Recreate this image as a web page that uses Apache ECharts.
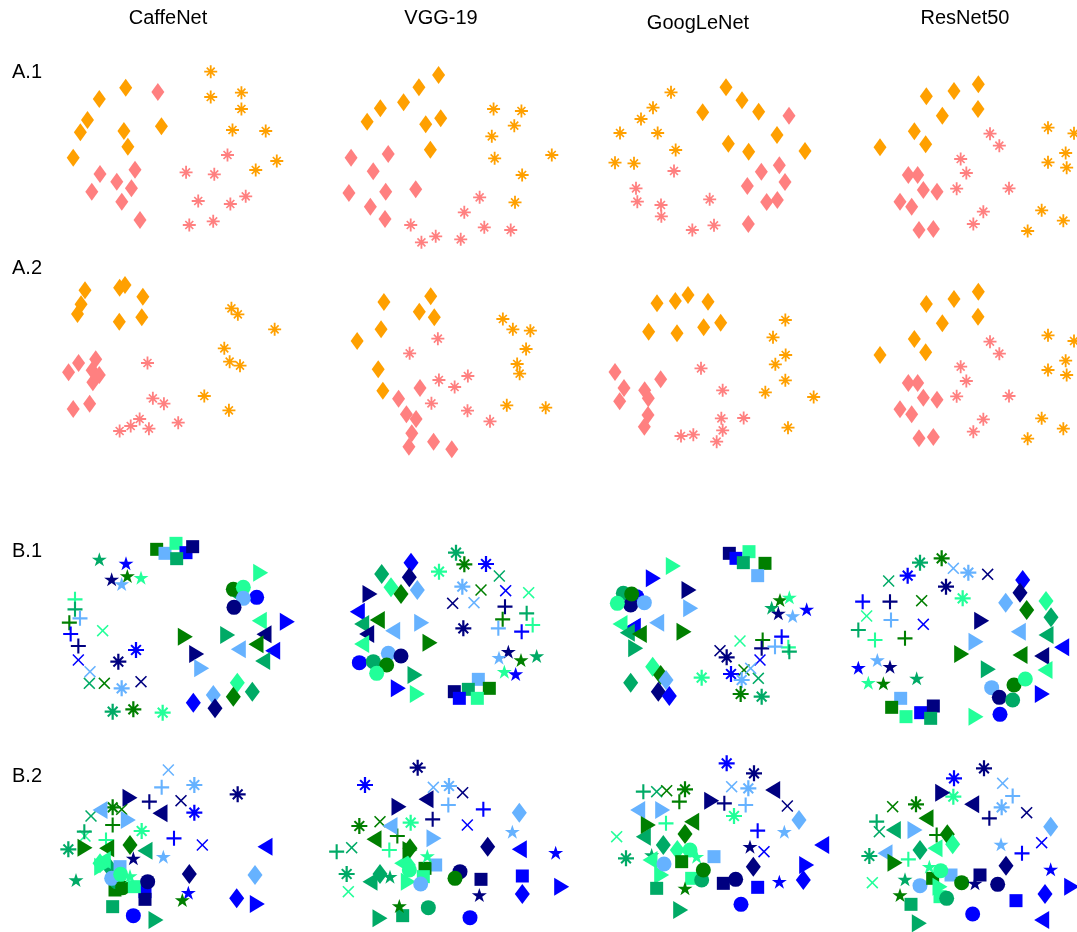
<!DOCTYPE html>
<html><head><meta charset="utf-8">
<script src="https://cdn.jsdelivr.net/npm/echarts@6/dist/echarts.min.js"></script>
<style>html,body{margin:0;padding:0;background:#fff}#c{width:1077px;height:932px}</style>
</head><body><div id="c"></div>
<script>
// Column (network) names and row labels
const networks = ['CaffeNet', 'VGG-19', 'GoogLeNet', 'ResNet50'];
const rowLabels = ['A.1', 'A.2', 'B.1', 'B.2'];

// Point values: [x, y, class]  (arbitrary embedding units)
// class = shape letter + colour letter
const a1_caffenet = [
[352,98,'Do'],[278,132,'Do'],[245,195,'Do'],[225,232,'Do'],[347,228,'Do'],[452,214,'Do'],[358,275,'Do'],[205,308,'Do'],
[442,111,'Ds'],[280,357,'Ds'],[378,344,'Ds'],[327,380,'Ds'],[368,400,'Ds'],[257,410,'Ds'],[341,440,'Ds'],[392,495,'Ds'],
[590,50,'Ao'],[590,126,'Ao'],[676,113,'Ao'],[676,162,'Ao'],[651,225,'Ao'],[744,228,'Ao'],[775,318,'Ao'],[716,345,'Ao'],
[637,300,'As'],[521,352,'As'],[600,358,'As'],[555,438,'As'],[645,447,'As'],[688,424,'As'],[530,510,'As'],[597,499,'As']];
const a1_vgg19 = [
[1228,60,'Do'],[1173,97,'Do'],[1130,142,'Do'],[1065,160,'Do'],[1028,200,'Do'],[1192,208,'Do'],[1234,190,'Do'],[1205,284,'Do'],
[983,308,'Ds'],[1087,297,'Ds'],[1045,349,'Ds'],[977,414,'Ds'],[1080,410,'Ds'],[1164,403,'Ds'],[1037,455,'Ds'],[1078,492,'Ds'],
[1382,162,'Ao'],[1460,168,'Ao'],[1440,212,'Ao'],[1377,244,'Ao'],[1385,310,'Ao'],[1545,300,'Ao'],[1462,360,'Ao'],[1442,442,'Ao'],
[1343,427,'As'],[1300,472,'As'],[1150,510,'As'],[1220,544,'As'],[1290,553,'As'],[1180,562,'As'],[1356,517,'As'],[1430,525,'As']];
const a1_googlenet = [
[498,97,'Do'],[546,136,'Do'],[428,172,'Do'],[596,170,'Do'],[505,266,'Do'],[566,290,'Do'],[651,240,'Do'],[735,288,'Do'],
[687,182,'Ds'],[604,350,'Ds'],[658,331,'Ds'],[562,393,'Ds'],[675,381,'Ds'],[620,441,'Ds'],[652,435,'Ds'],[565,507,'Ds'],
[333,112,'Ao'],[279,158,'Ao'],[243,192,'Ao'],[180,234,'Ao'],[293,234,'Ao'],[347,285,'Ao'],[165,323,'Ao'],[222,325,'Ao'],
[342,348,'As'],[228,400,'As'],[232,440,'As'],[303,450,'As'],[304,484,'As'],[449,433,'As'],[462,511,'As'],[397,525,'As']];
const a1_resnet50 = [
[1099,124,'Do'],[1182,108,'Do'],[1255,88,'Do'],[1254,162,'Do'],[1147,182,'Do'],[1063,229,'Do'],[1097,268,'Do'],[960,277,'Do'],
[1045,360,'Ds'],[1073,360,'Ds'],[1090,405,'Ds'],[1131,410,'Ds'],[1020,440,'Ds'],[1055,455,'Ds'],[1077,525,'Ds'],[1120,522,'Ds'],
[1464,218,'Ao'],[1542,235,'Ao'],[1517,294,'Ao'],[1464,322,'Ao'],[1520,338,'Ao'],[1445,466,'Ao'],[1510,497,'Ao'],[1403,528,'Ao'],
[1290,236,'As'],[1318,272,'As'],[1202,312,'As'],[1219,354,'As'],[1190,401,'As'],[1347,400,'As'],[1270,470,'As'],[1240,507,'As']];

const a2_caffenet = [
[238,76,'Do'],[227,118,'Do'],[217,147,'Do'],[335,68,'Do'],[350,60,'Do'],[400,95,'Do'],[334,170,'Do'],[397,157,'Do'],
[220,294,'Ds'],[192,322,'Ds'],[268,283,'Ds'],[258,316,'Ds'],[278,330,'Ds'],[260,352,'Ds'],[205,432,'Ds'],[251,416,'Ds'],
[648,130,'Ao'],[666,148,'Ao'],[769,193,'Ao'],[628,250,'Ao'],[643,290,'Ao'],[672,302,'Ao'],[572,393,'Ao'],[641,436,'Ao'],
[413,294,'As'],[428,400,'As'],[459,416,'As'],[391,462,'As'],[366,483,'As'],[335,498,'As'],[417,491,'As'],[499,473,'As']];
const a2_vgg19 = [
[1075,111,'Do'],[1206,94,'Do'],[1174,140,'Do'],[1216,157,'Do'],[1067,193,'Do'],[1000,228,'Do'],[1059,313,'Do'],[1072,377,'Do'],
[1176,369,'Ds'],[1116,401,'Ds'],[1138,448,'Ds'],[1165,462,'Ds'],[1153,505,'Ds'],[1145,545,'Ds'],[1214,530,'Ds'],[1265,553,'Ds'],
[1408,162,'Ao'],[1436,193,'Ao'],[1485,197,'Ao'],[1473,252,'Ao'],[1448,297,'Ao'],[1455,326,'Ao'],[1419,421,'Ao'],[1528,428,'Ao'],
[1226,221,'As'],[1147,265,'As'],[1229,345,'As'],[1273,366,'As'],[1310,333,'As'],[1208,415,'As'],[1309,437,'As'],[1372,469,'As']];
const a2_googlenet = [
[291,115,'Do'],[346,108,'Do'],[384,90,'Do'],[444,110,'Do'],[266,200,'Do'],[351,205,'Do'],[431,187,'Do'],[482,173,'Do'],
[165,321,'Ds'],[192,369,'Ds'],[179,409,'Ds'],[302,343,'Ds'],[254,376,'Ds'],[265,400,'Ds'],[264,450,'Ds'],[253,485,'Ds'],
[676,165,'Ao'],[639,217,'Ao'],[677,270,'Ao'],[646,298,'Ao'],[676,346,'Ao'],[616,382,'Ao'],[761,396,'Ao'],[684,488,'Ao'],
[423,310,'As'],[488,376,'As'],[484,460,'As'],[551,459,'As'],[488,496,'As'],[400,509,'As'],[363,513,'As'],[470,530,'As']];
const a2_resnet50 = [
[1099,117,'Do'],[1182,102,'Do'],[1255,80,'Do'],[1254,155,'Do'],[1147,175,'Do'],[1063,222,'Do'],[1097,262,'Do'],[960,270,'Do'],
[1045,354,'Ds'],[1073,354,'Ds'],[1090,398,'Ds'],[1131,404,'Ds'],[1020,433,'Ds'],[1055,448,'Ds'],[1077,520,'Ds'],[1120,516,'Ds'],
[1464,211,'Ao'],[1542,228,'Ao'],[1517,287,'Ao'],[1464,315,'Ao'],[1520,330,'Ao'],[1445,460,'Ao'],[1510,491,'Ao'],[1403,521,'Ao'],
[1290,230,'As'],[1318,266,'As'],[1202,305,'As'],[1219,348,'As'],[1190,394,'As'],[1347,393,'As'],[1270,463,'As'],[1240,500,'As']];

const b1_caffenet = [
[148,88,'Sm'],[228,100,'Sb'],[185,148,'Sn'],[232,138,'Sg'],[215,162,'Sl'],[273,143,'St'],
[320,58,'Qg'],[345,70,'Ql'],[378,40,'Qt'],[408,68,'Qb'],[428,50,'Qn'],[380,86,'Qm'],
[565,185,'Cm'],[550,178,'Cg'],[580,172,'Ct'],[620,202,'Cb'],[580,205,'Cl'],[552,232,'Cn'],
[632,128,'Rt'],[712,275,'Rb'],[406,320,'Rg'],[533,315,'Rm'],[440,372,'Rn'],[455,415,'Rl'],
[628,272,'Lt'],[642,313,'Ln'],[618,343,'Lg'],[565,358,'Ll'],[668,362,'Lb'],[638,393,'Lm'],
[430,518,'Db'],[490,495,'Dl'],[495,535,'Dn'],[562,458,'Dt'],[550,500,'Dg'],[607,485,'Dm'],
[75,208,'Pt'],[75,238,'Pm'],[90,265,'Pl'],[58,278,'Pg'],[62,312,'Pb'],[85,348,'Pn'],
[158,302,'Xt'],[85,390,'Xb'],[120,425,'Xl'],[118,460,'Xm'],[163,460,'Xg'],[273,455,'Xn'],
[258,360,'Ab'],[205,395,'An'],[215,475,'Al'],[188,545,'Am'],[250,538,'Ag'],[338,548,'At']];
const b1_vgg19 = [
[273,98,'Db'],[185,132,'Dm'],[268,142,'Dn'],[213,172,'Dt'],[243,192,'Dg'],[292,180,'Dl'],
[150,192,'Rn'],[305,278,'Rl'],[330,338,'Rg'],[285,435,'Rm'],[235,475,'Rb'],[292,492,'Rt'],
[112,245,'Lb'],[172,270,'Lg'],[125,282,'Lm'],[218,302,'Ll'],[140,312,'Ln'],[125,342,'Lt'],
[205,370,'Cl'],[243,378,'Cn'],[118,398,'Cb'],[160,395,'Cm'],[200,405,'Cg'],[170,430,'Ct'],
[408,68,'Am'],[433,103,'Ag'],[498,102,'Ab'],[357,125,'At'],[427,170,'Al'],[430,295,'An'],
[538,138,'Xm'],[557,182,'Xb'],[626,188,'Xt'],[483,180,'Xg'],[398,220,'Xn'],[462,218,'Xl'],
[555,230,'Pn'],[548,268,'Pg'],[620,250,'Pm'],[638,285,'Pt'],[535,295,'Pl'],[605,305,'Pb'],
[565,365,'Sn'],[537,383,'Sl'],[603,390,'Sg'],[650,378,'Sm'],[553,425,'St'],[587,432,'Sb'],
[475,448,'Ql'],[403,485,'Qn'],[445,478,'Qm'],[508,475,'Qg'],[418,505,'Qb'],[472,505,'Qt']];
const b1_googlenet = [
[418,70,'Qn'],[438,85,'Qb'],[477,65,'Qt'],[460,98,'Qm'],[525,100,'Qg'],[503,137,'Ql'],
[250,108,'Rt'],[190,145,'Rb'],[297,180,'Rn'],[302,235,'Rl'],[282,305,'Rg'],[137,355,'Rm'],
[100,190,'Cm'],[140,200,'Cb'],[122,225,'Cn'],[125,192,'Cg'],[82,220,'Ct'],[163,218,'Cl'],
[200,278,'Ll'],[125,295,'Ln'],[130,290,'Lb'],[90,282,'Lt'],[112,308,'Lm'],[148,312,'Lg'],
[188,410,'Dt'],[212,435,'Dg'],[228,450,'Dl'],[122,458,'Dm'],[205,485,'Dn'],[238,498,'Db'],
[545,233,'Sm'],[570,210,'Sg'],[598,202,'St'],[565,250,'Sn'],[608,258,'Sl'],[650,238,'Sb'],
[595,352,'Pt'],[518,330,'Pg'],[515,355,'Pn'],[575,320,'Pb'],[555,350,'Pl'],[598,365,'Pm'],
[450,333,'Xt'],[390,362,'Xn'],[510,390,'Xb'],[462,420,'Xg'],[482,415,'Xl'],[505,445,'Xm'],
[335,443,'At'],[410,382,'An'],[423,432,'Ab'],[455,450,'Al'],[452,492,'Ag'],[515,500,'Am']];
const b1_resnet50 = [
[240,98,'Am'],[305,85,'Ag'],[203,137,'Ab'],[385,128,'Al'],[318,170,'An'],[368,205,'At'],
[340,115,'Xl'],[443,133,'Xn'],[146,153,'Xm'],[245,212,'Xg'],[80,258,'Xt'],[250,283,'Xb'],
[68,215,'Pb'],[150,215,'Pn'],[153,270,'Pl'],[55,300,'Pm'],[105,330,'Pt'],[195,325,'Pg'],
[55,413,'Sb'],[112,390,'Sl'],[150,410,'Sn'],[85,458,'St'],[130,460,'Sg'],[230,445,'Sm'],
[182,505,'Ql'],[155,532,'Qg'],[198,560,'Qt'],[242,548,'Qb'],[280,528,'Qn'],[272,565,'Qm'],
[548,150,'Db'],[540,188,'Dn'],[497,218,'Dl'],[560,240,'Dg'],[618,213,'Dt'],[633,262,'Dm'],
[425,272,'Rn'],[408,335,'Rl'],[365,372,'Rg'],[445,418,'Rm'],[607,492,'Rb'],[408,560,'Rt'],
[535,305,'Ll'],[618,315,'Lm'],[540,375,'Lg'],[605,378,'Ln'],[665,352,'Lb'],[615,420,'Lt'],
[455,473,'Cl'],[478,502,'Cn'],[522,465,'Cg'],[556,447,'Ct'],[518,510,'Cm'],[480,553,'Cb']];

const b2_caffenet = [
[355,60,'Xl'],[393,152,'Xn'],[457,285,'Xb'],[123,198,'Xm'],[215,178,'Xg'],[105,258,'Xt'],
[335,112,'Pl'],[298,155,'Pn'],[188,225,'Pg'],[103,245,'Pm'],[168,270,'Pt'],[372,265,'Pb'],
[433,105,'Al'],[563,133,'An'],[433,188,'Ab'],[188,172,'Ag'],[275,243,'At'],[55,298,'Am'],
[240,143,'Rn'],[235,210,'Rl'],[105,293,'Rg'],[318,510,'Rm'],[622,462,'Rb'],
[150,180,'Ll'],[330,190,'Ln'],[170,295,'Lg'],[285,302,'Lm'],[645,290,'Lb'],
[240,285,'Dg'],[418,372,'Dn'],[615,375,'Dl'],[560,445,'Db'],[178,352,'Dm'],
[78,390,'Sm'],[195,420,'Qg'],[188,470,'Qm'],[285,425,'Qb'],[285,448,'Qn'],
[200,395,'Cm'],[185,385,'Cl'],[218,413,'Cg'],[210,350,'Ql'],[253,410,'Qt'],[212,373,'Ct'],
[160,330,'Lt'],[150,340,'Dt'],[155,350,'Rt'],[240,378,'St'],
[293,395,'Cn'],[250,497,'Cb'],
[250,325,'Sn'],[340,320,'Sl'],[415,428,'Sb'],[397,450,'Sg']];
const b2_vgg19 = [
[293,53,'An'],[135,105,'Ab'],[387,108,'Al'],[272,218,'At'],[118,228,'Ag'],[80,372,'Am'],
[340,112,'Xl'],[428,128,'Xn'],[442,225,'Xb'],[180,215,'Xg'],[95,293,'Xm'],[85,425,'Xt'],
[385,165,'Pl'],[490,178,'Pb'],[338,208,'Pn'],[232,258,'Pg'],[208,300,'Pt'],[50,305,'Pm'],
[237,170,'Rn'],[342,265,'Rl'],[180,505,'Rm'],[725,410,'Rb'],
[318,148,'Ln'],[210,228,'Ll'],[162,268,'Lg'],[598,298,'Lb'],[150,395,'Lm'],
[598,188,'Dl'],[503,290,'Dn'],[607,432,'Db'],[180,372,'Dm'],
[577,245,'Sl'],[707,308,'Sb'],[210,380,'Sm'],[478,435,'Sn'],
[483,388,'Qn'],[607,378,'Qb'],[248,497,'Qm'],
[265,395,'Rt'],[245,340,'Lt'],[265,345,'Dt'],[270,300,'Rg'],[270,295,'Dg'],
[347,345,'Ql'],[315,355,'Qg'],[310,380,'Qt'],[268,360,'Ct'],[322,318,'St'],
[420,365,'Cn'],[405,385,'Cg'],[302,402,'Cl'],[325,473,'Cm'],[450,503,'Cb'],[238,468,'Sg']];
const b2_googlenet = [
[410,40,'Ab'],[492,70,'An'],[475,115,'Al'],[285,118,'Ag'],[432,198,'At'],[108,325,'Am'],
[200,125,'Xm'],[230,122,'Xg'],[425,110,'Xl'],[592,168,'Xn'],[80,260,'Xt'],[522,305,'Xb'],
[160,125,'Pm'],[268,155,'Pg'],[403,160,'Pn'],[467,165,'Pl'],[228,220,'Pt'],[503,242,'Pb'],
[548,120,'Ln'],[143,180,'Ll'],[305,215,'Lg'],[160,260,'Lm'],[695,285,'Lb'],
[365,152,'Rn'],[218,180,'Rl'],[175,225,'Rg'],[650,345,'Rb'],[272,480,'Rm'],
[627,210,'Dl'],[285,252,'Dg'],[220,285,'Dm'],[490,350,'Dn'],[640,390,'Db'],
[583,245,'Sl'],[480,290,'Sn'],[185,315,'Sm'],[568,395,'Sb'],
[180,330,'Lt'],[215,375,'Rt'],[262,300,'Dt'],[300,300,'Ct'],[320,320,'St'],
[222,342,'Cl'],[275,335,'Qg'],[372,320,'Ql'],[305,385,'Qt'],[335,390,'Cm'],[340,360,'Cg'],
[400,400,'Qn'],[437,388,'Cn'],[503,412,'Qb'],[200,415,'Qm'],[285,415,'Sg'],[453,463,'Cb']];
const b2_resnet50 = [
[432,55,'An'],[342,85,'Ab'],[340,140,'At'],[485,172,'Al'],[228,163,'Ag'],[88,318,'Am'],
[488,100,'Xl'],[560,188,'Xn'],[158,170,'Xg'],[118,245,'Xm'],[605,278,'Xb'],[97,398,'Xt'],
[518,138,'Pl'],[448,205,'Pn'],[290,255,'Pg'],[110,215,'Pm'],[546,310,'Pb'],
[308,128,'Rn'],[225,240,'Rl'],[238,520,'Rm'],[695,410,'Rb'],
[395,163,'Ln'],[258,205,'Lg'],[160,240,'Lm'],[135,310,'Ll'],[605,510,'Lb'],
[632,230,'Dl'],[322,253,'Dg'],[240,300,'Dm'],[498,347,'Dn'],[615,432,'Db'],
[483,283,'Sl'],[632,358,'Sb'],[195,388,'Sm'],[180,435,'Sg'],
[165,338,'Rg'],[205,328,'Pt'],[285,295,'Lt'],[338,283,'Dt'],
[240,407,'Cl'],[278,385,'Qg'],[333,375,'Ql'],[268,350,'St'],[300,410,'Rt'],[300,440,'Qt'],[302,362,'Ct'],
[320,445,'Cm'],[365,398,'Cg'],[405,400,'Sn'],[420,375,'Qn'],[473,403,'Cn'],[528,452,'Qb'],[213,463,'Qm'],[398,492,'Cb']];

// ---------- styling ----------
const COLORS = {o:'#ffa000', s:'#ff8080', n:'#000080', b:'#0000ff', l:'#66b2ff', g:'#007f00', m:'#00aa66', t:'#22ff99'};
const STAR = 'path://M50,0L61.2,34.5L97.6,34.5L68.2,55.9L79.4,90.5L50,69.1L20.6,90.5L31.8,55.9L2.4,34.5L38.8,34.5Z';
const PLUS = 'path://M43,0H57V43H100V57H57V100H43V57H0V43H43Z';
const CROSS = 'path://M0,9L9,0L50,41L91,0L100,9L59,50L100,91L91,100L50,59L9,100L0,91L41,50Z';
const ASTER = 'path://M43,0H57V43H100V57H57V100H43V57H0V43H43Z M15,24L24,15L50,41L76,15L85,24L59,50L85,76L76,85L50,59L24,85L15,76L41,50Z';
const TRI_R = 'path://M0,0L100,50L0,100Z';
const TRI_L = 'path://M100,0L0,50L100,100Z';
const SHAPES = {D:'diamond', A:ASTER, S:STAR, Q:'rect', C:'circle', R:TRI_R, L:TRI_L, P:PLUS, X:CROSS};
const SIZE_A = {D:[13,18], A:13};
const SIZE_B = {S:[15,14], Q:13, C:15, R:[15,18], L:[15,18], D:[15,20], P:15, X:12, A:16};

// panel layout: [data, left, top, width, height, xMax, yMax, rowType]
const panels = [
  [a1_caffenet, 0, 55, 560, 190, 1568, 570, 'A'], [a1_vgg19, 0, 55, 560, 190, 1568, 570, 'A'],
  [a1_googlenet, 560, 55, 517, 190, 1551, 570, 'A'], [a1_resnet50, 560, 55, 517, 190, 1551, 570, 'A'],
  [a2_caffenet, 0, 265, 560, 190, 1568, 570, 'A'], [a2_vgg19, 0, 265, 560, 190, 1568, 570, 'A'],
  [a2_googlenet, 560, 265, 517, 190, 1551, 570, 'A'], [a2_resnet50, 560, 265, 517, 190, 1551, 570, 'A'],
  [b1_caffenet, 50, 530, 260, 195, 780, 585, 'B'], [b1_vgg19, 320, 530, 260, 195, 780, 585, 'B'],
  [b1_googlenet, 590, 530, 260, 195, 780, 585, 'B'], [b1_resnet50, 840, 530, 237, 195, 711, 585, 'B'],
  [b2_caffenet, 50, 750, 260, 182, 780, 546, 'B'], [b2_vgg19, 320, 750, 260, 182, 780, 546, 'B'],
  [b2_googlenet, 590, 750, 260, 182, 780, 546, 'B'], [b2_resnet50, 840, 750, 237, 182, 711, 546, 'B']
];

const grid = [], xAxis = [], yAxis = [], series = [];
panels.forEach((p, i) => {
  const [data, left, top, w, h, xMax, yMax, type] = p;
  grid.push({left: left, top: top, width: w, height: h});
  xAxis.push({gridIndex: i, type: 'value', min: 0, max: xMax, show: false});
  yAxis.push({gridIndex: i, type: 'value', min: 0, max: yMax, inverse: true, show: false});
  const sizes = type === 'A' ? SIZE_A : SIZE_B;
  series.push({
    type: 'scatter', xAxisIndex: i, yAxisIndex: i, clip: false, silent: true, animation: false,
    data: data.map(d => ({
      value: [d[0], d[1]],
      symbol: SHAPES[d[2][0]],
      symbolSize: sizes[d[2][0]],
      itemStyle: {color: COLORS[d[2][1]], opacity: 1}
    }))
  });
});

const FONT = '20px "Liberation Sans", Arial, sans-serif';
const titleX = [168, 441, 698, 965];
const titleY = [18, 18, 23, 18];
const labelY = [72, 268, 551, 776];
const graphic = [];
networks.forEach((n, i) => graphic.push({type: 'text', x: titleX[i], y: titleY[i],
  style: {text: n, font: FONT, fill: '#000', align: 'center', verticalAlign: 'middle', textAlign: 'center', textVerticalAlign: 'middle'}}));
rowLabels.forEach((r, i) => graphic.push({type: 'text', x: 12, y: labelY[i],
  style: {text: r, font: '20px "Liberation Sans", Arial, sans-serif', fill: '#000', align: 'left', verticalAlign: 'middle', textAlign: 'left', textVerticalAlign: 'middle'}}));

const chart = echarts.init(document.getElementById('c'), null, {renderer: 'canvas'});
chart.setOption({backgroundColor: '#fff', animation: false, grid, xAxis, yAxis, series, graphic});
</script>
</body></html>
